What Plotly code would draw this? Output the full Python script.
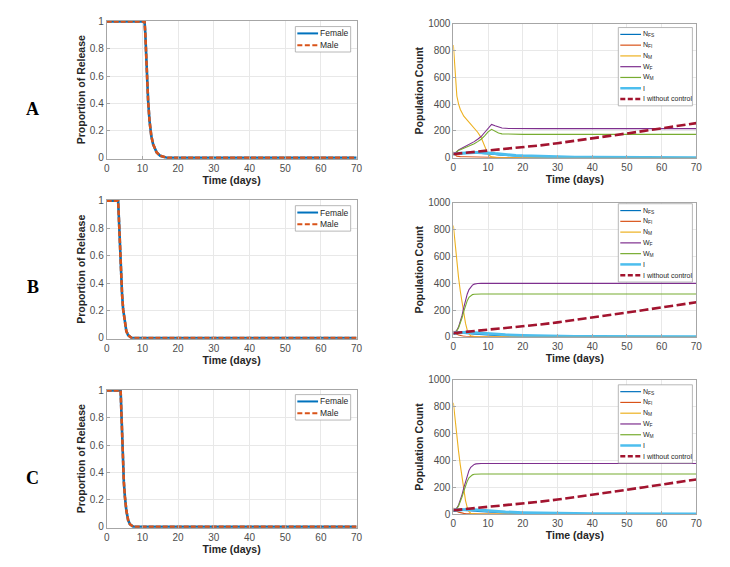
import plotly.graph_objects as go

W, H = 730, 567

# ---- left column: proportion of release (Female and Male coincide) ----
tr_A = [0, 10.6, 10.8, 11.0, 11.3, 11.6, 12.0, 12.5, 13.0, 14.0, 15.0, 16.0, 17.0, 70]
rel_A = [1, 1, 0.92, 0.78, 0.58, 0.42, 0.27, 0.16, 0.10, 0.04, 0.015, 0.005, 0, 0]
tr_B = [0, 3.2, 3.4, 3.6, 3.8, 4.0, 4.3, 4.6, 5.0, 5.5, 6.0, 7.0, 70]
rel_B = [1, 1, 0.88, 0.72, 0.58, 0.45, 0.32, 0.21, 0.12, 0.05, 0.02, 0, 0]
tr_C = [0, 3.9, 4.1, 4.3, 4.5, 4.8, 5.1, 5.5, 6.0, 6.5, 7.5, 70]
rel_C = [1, 1, 0.85, 0.65, 0.48, 0.33, 0.22, 0.12, 0.05, 0.02, 0, 0]

# ---- right column: population counts ----
t_A = [0, 0.5, 1, 1.5, 2, 3, 4, 5, 6, 7, 8, 9, 10, 11, 12, 13, 14, 16, 18, 20,
       25, 30, 35, 40, 45, 50, 55, 60, 65, 70]
nfs_A = [20, 24, 27, 29, 30, 32, 33, 34, 34, 34, 33, 32, 30, 27, 24, 21, 19, 15, 12, 10,
         6, 4, 2.5, 1.5, 1, 0.6, 0.4, 0.3, 0.2, 0.1]
nfi_A = [45, 22, 12, 9, 8, 7, 6, 5, 5, 4, 4, 3, 3, 2, 2, 1, 1, 1, 0, 0,
         0, 0, 0, 0, 0, 0, 0, 0, 0, 0]
nm_A = [840, 600, 460, 400, 360, 310, 280, 250, 220, 190, 150, 85, 25, 6, 1, 0, 0, 0, 0, 0,
        0, 0, 0, 0, 0, 0, 0, 0, 0, 0]
wf_A = [22, 35, 50, 58, 65, 78, 92, 105, 120, 138, 158, 188, 222, 248, 238, 228, 222, 218, 217, 217,
        217, 217, 217, 217, 217, 217, 217, 217, 217, 217]
wm_A = [22, 35, 48, 55, 60, 70, 80, 92, 105, 120, 138, 163, 193, 212, 195, 184, 178, 175, 174, 174,
        174, 174, 174, 174, 174, 174, 174, 174, 174, 174]
i_A = [30, 31, 33, 34, 35, 36, 37, 38, 38, 38, 38, 37, 36, 34, 31, 28, 25, 21, 17, 14,
       9, 6, 4, 3, 2, 1.5, 1, 0.7, 0.5, 0.3]

t_BC = [0, 0.5, 1, 1.5, 2, 2.5, 3, 3.5, 4, 4.5, 5, 5.5, 6, 6.5, 7, 8, 10, 12, 15, 20,
        25, 30, 35, 40, 50, 60, 70]
nfs_B = [20, 22, 24, 25, 26, 26, 26, 25, 25, 24, 23, 22, 21, 20, 19, 17, 14, 11, 8, 5,
         3, 2, 1, 0.7, 0.3, 0.1, 0]
nfi_B = [45, 30, 20, 14, 10, 7, 5, 4, 3, 2, 1, 1, 0.5, 0.3, 0.2, 0, 0, 0, 0, 0,
         0, 0, 0, 0, 0, 0, 0]
nm_B = [830, 680, 550, 440, 340, 250, 170, 100, 50, 22, 8, 4, 2, 1, 0, 0, 0, 0, 0, 0,
        0, 0, 0, 0, 0, 0, 0]
wf_B = [20, 32, 50, 75, 110, 160, 220, 275, 320, 352, 373, 386, 393, 396, 398, 399, 399, 399, 399, 399,
        399, 399, 399, 399, 399, 399, 399]
wm_B = [20, 30, 45, 68, 100, 142, 190, 235, 270, 295, 308, 315, 318, 319, 320, 320, 320, 320, 320, 320,
        320, 320, 320, 320, 320, 320, 320]
i_B = [30, 31, 32, 33, 34, 35, 35, 35, 34, 34, 33, 32, 31, 30, 29, 27, 23, 20, 15, 10,
       6, 4, 3, 2, 1, 0.5, 0.3]

nfs_C = [20, 22, 24, 25, 26, 26, 26, 26, 25, 25, 24, 23, 22, 21, 20, 18, 15, 12, 8, 5,
         3, 2, 1, 0.7, 0.3, 0.1, 0]
nfi_C = [45, 30, 20, 14, 10, 7, 5, 4, 3, 2, 1, 1, 0.5, 0.3, 0.2, 0, 0, 0, 0, 0,
         0, 0, 0, 0, 0, 0, 0]
nm_C = [830, 690, 575, 465, 365, 270, 175, 100, 48, 18, 6, 3, 1, 0.5, 0, 0, 0, 0, 0, 0,
        0, 0, 0, 0, 0, 0, 0]
wf_C = [20, 30, 45, 68, 100, 145, 195, 245, 290, 325, 348, 362, 370, 374, 376, 377, 377, 377, 377, 377,
        377, 377, 377, 377, 377, 377, 377]
wm_C = [20, 28, 40, 60, 90, 128, 170, 210, 245, 270, 285, 292, 296, 297, 298, 298, 298, 298, 298, 298,
        298, 298, 298, 298, 298, 298, 298]
i_C = [30, 31, 32, 33, 34, 35, 35, 35, 35, 34, 34, 33, 32, 31, 30, 28, 24, 20, 15, 10,
       6, 4, 3, 2, 1, 0.5, 0.3]

t_noctrl = [0, 5, 10, 15, 20, 25, 30, 35, 40, 45, 50, 55, 60, 65, 70]
i_noctrl = [28, 40, 53, 65, 78, 92, 108, 125, 144, 162, 181, 200, 219, 238, 258]

panel_labels = ["A", "B", "C"]
pop_names = ["N<sub>FS</sub>", "N<sub>FI</sub>", "N<sub>M</sub>",
             "W<sub>F</sub>", "W<sub>M</sub>", "I", "I without control"]
sex_names = ["Female", "Male"]

BLUE, ORANGE, YELLOW = "#0072BD", "#D95319", "#EDB120"
PURPLE, GREEN, CYAN, DARKRED = "#7E2F8E", "#77AC30", "#4DBEEE", "#A2142F"
AXIS_GRAY = "#a6a6a6"
TEXT = "#262626"
FONT = "Arial, Liberation Sans, sans-serif"


def px(x):
    return x / W


def py(y):
    return 1 - y / H


# plot boxes in pixels: (left, right, top, bottom)
left_boxes = [(105, 358, 15, 156), (105, 358, 198, 340), (105, 358, 392, 533)]
right_boxes = [(456, 702, 18, 155), (456, 702, 201, 338), (456, 702, 382, 519)]
label_y = [105, 287, 482]
left_legend_top = [21, 204, 397]
right_legend_top = [22, 202, 387]

release = [(tr_A, rel_A), (tr_B, rel_B), (tr_C, rel_C)]
pops = [
    (t_A, [nfs_A, nfi_A, nm_A, wf_A, wm_A, i_A]),
    (t_BC, [nfs_B, nfi_B, nm_B, wf_B, wm_B, i_B]),
    (t_BC, [nfs_C, nfi_C, nm_C, wf_C, wm_C, i_C]),
]
pop_colors = [BLUE, ORANGE, YELLOW, PURPLE, GREEN, CYAN]
pop_widths = [1.1, 1.1, 1.1, 1.1, 1.1, 3]

fig = go.Figure()
layout = dict(
    width=W, height=H, margin=dict(l=0, r=0, t=0, b=0),
    paper_bgcolor="white", plot_bgcolor="white", showlegend=False,
    font=dict(family=FONT, color=TEXT),
)
shapes, annotations = [], []


def axis_style(box, horizontal, rng, dtick, title, standoff, anchor):
    l, r, t, b = box
    dom = [px(l), px(r)] if horizontal else [py(b), py(t)]
    return dict(
        domain=dom, range=rng, dtick=dtick, anchor=anchor,
        showline=True, mirror=True, linecolor=AXIS_GRAY, linewidth=1,
        ticks="inside", ticklen=3, tickcolor=AXIS_GRAY,
        showgrid=True, gridcolor="#e8e8e8", gridwidth=1, zeroline=False,
        tickfont=dict(size=10, color="#4d4d4d", family=FONT),
        title=dict(text="<b>%s</b>" % title, font=dict(size=10.5, color=TEXT, family=FONT),
                   standoff=standoff),
        fixedrange=True,
    )


def add_legend(x0, y0, x1, entries, text_size, row_h, first_y, dashes):
    y1 = first_y + row_h * (len(entries) - 1) + (first_y - y0)
    shapes.append(dict(type="rect", xref="paper", yref="paper",
                       x0=px(x0), x1=px(x1), y0=py(y0), y1=py(y1),
                       line=dict(color=AXIS_GRAY, width=0.8), fillcolor="white"))
    for k, (name, color, width, dash) in enumerate(entries):
        yy = first_y + row_h * k
        shapes.append(dict(type="line", xref="paper", yref="paper",
                           x0=px(x0 + 2), x1=px(x0 + 23), y0=py(yy), y1=py(yy),
                           line=dict(color=color, width=width, dash=dashes.get(dash, dash))))
        annotations.append(dict(xref="paper", yref="paper", x=px(x0 + 23), y=py(yy),
                                xanchor="left", yanchor="middle", showarrow=False,
                                text=name, font=dict(size=text_size, color=TEXT, family=FONT)))


for k in range(3):
    li = 2 * k + 1
    ri = 2 * k + 2
    xl, yl = "x%d" % li, "y%d" % li
    xr, yr = "x%d" % ri, "y%d" % ri

    layout["xaxis%d" % li] = axis_style(left_boxes[k], True, [0, 70], 10, "Time (days)", 3, yl)
    layout["yaxis%d" % li] = axis_style(left_boxes[k], False, [-0.006, 1.006], 0.2,
                                        "Proportion of Release", 2, xl)
    layout["xaxis%d" % ri] = axis_style(right_boxes[k], True, [0, 70], 10, "Time (days)", 3, yr)
    layout["yaxis%d" % ri] = axis_style(right_boxes[k], False, [0, 1000], 200, "Population Count", 2, xr)

    t_rel, v_rel = release[k]
    fig.add_trace(go.Scatter(x=t_rel, y=v_rel, mode="lines", name=sex_names[0],
                             line=dict(color=BLUE, width=2.6), xaxis=xl, yaxis=yl))
    fig.add_trace(go.Scatter(x=t_rel, y=v_rel, mode="lines", name=sex_names[1],
                             line=dict(color=ORANGE, width=2.6, dash="5px,2px"), xaxis=xl, yaxis=yl))

    t_pop, series = pops[k]
    for name, vals, color, width in zip(pop_names, series, pop_colors, pop_widths):
        fig.add_trace(go.Scatter(x=t_pop, y=vals, mode="lines", name=name,
                                 line=dict(color=color, width=width), xaxis=xr, yaxis=yr))
    fig.add_trace(go.Scatter(x=t_noctrl, y=i_noctrl, mode="lines", name=pop_names[6],
                             line=dict(color=DARKRED, width=2.6, dash="9px,3.5px"), xaxis=xr, yaxis=yr))

    annotations.append(dict(xref="paper", yref="paper", x=px(30), y=py(label_y[k]),
                            xanchor="center", yanchor="middle", showarrow=False,
                            text="<b>%s</b>" % panel_labels[k],
                            font=dict(size=18, color="black", family="Liberation Serif, Times New Roman, serif")))

    top = left_legend_top[k]
    add_legend(296, top, 352,
               [(sex_names[0], BLUE, 2, "solid"), (sex_names[1], ORANGE, 2, "dash")],
               8.5, 12, top + 7, {"dash": "5px,2.5px"})

    top = right_legend_top[k]
    add_legend(623, top, 698,
               [(n, c, w, "solid") for n, c, w in zip(pop_names[:6], pop_colors, [1.2] * 5 + [2.5])]
               + [(pop_names[6], DARKRED, 2.5, "dash")],
               7, 11, top + 7, {"dash": "5px,2.5px"})

layout["shapes"] = shapes
layout["annotations"] = annotations
fig.update_layout(**layout)
# page margin off so the 730x567 figure fills the window exactly
fig.write_html("out.html", config={"displayModeBar": False},
               post_script="document.body.style.margin='0';document.body.style.overflow='hidden';")
